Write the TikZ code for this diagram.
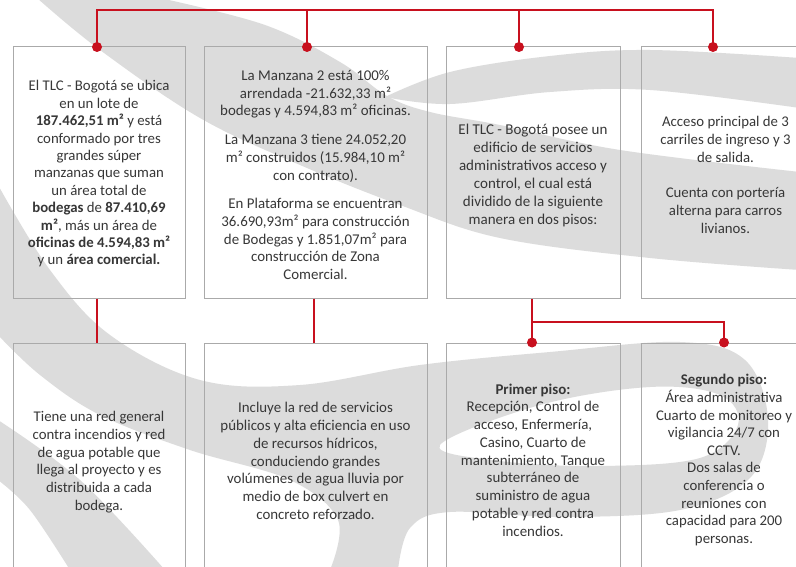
\documentclass[tikz,border=0pt]{standalone}
\usepackage{fontspec}
\setmainfont{Carlito}
\definecolor{redc}{RGB}{200,16,30}
\definecolor{boxgray}{RGB}{170,170,170}
\definecolor{swooshc}{RGB}{220,220,220}
\definecolor{txtc}{RGB}{55,55,55}
\begin{document}
\begin{tikzpicture}[x=1pt,y=-1pt,
  boxn/.style={draw=boxgray,line width=1pt,rectangle,inner sep=0pt},
  txtn/.style 2 args={text=txtc,align=center,font=\fontsize{#1}{#2}\selectfont,inner sep=0pt},
  redline/.style={draw=redc,line width=1.6pt},
  swoosh/.style={fill=swooshc}]
\useasboundingbox (0,0) rectangle (796,567);
\clip (0,0) rectangle (796,567);
\fill[white] (0,0) rectangle (796,567);
% watermark swoosh
\fill[swoosh] plot[smooth,tension=0.6] coordinates {(160,-2) (265,25) (340,62) (387,96) (430,112) (500,125) (620,150) (800,172)}
  -- (800,270) -- plot[smooth,tension=0.6] coordinates {(800,270) (650,258) (500,238) (400,205) (300,165) (200,118) (100,50) (37,-2)} -- cycle;
\fill[swoosh] plot[smooth,tension=0.6] coordinates {(385,97) (450,72) (550,56) (650,50) (800,58)}
  -- (800,108) -- plot[smooth,tension=0.6] coordinates {(800,108) (650,90) (550,92) (450,104) (385,97)} -- cycle;
\fill[swoosh,even odd rule] plot[smooth,tension=0.6] coordinates {(-2,185) (50,270) (110,335) (200,380) (300,385) (420,365) (550,352) (680,342) (745,360) (768,420) (750,478) (680,510) (560,517) (450,512) (410,528) (398,570)}
  -- (330,570) -- plot[smooth,tension=0.6] coordinates {(330,570) (338,520) (290,480) (190,450) (100,415) (40,375) (-2,335)} -- cycle
  plot[smooth cycle,tension=0.6] coordinates {(440,445) (540,405) (650,387) (720,395) (738,425) (700,458) (600,466) (500,461)};
\fill[swoosh] plot[smooth,tension=0.6] coordinates {(-2,420) (80,480) (165,570)} -- (70,570) -- plot[smooth,tension=0.6] coordinates {(70,570) (30,510) (-2,480)} -- cycle;
% boxes
\node[boxn,minimum width=172pt,minimum height=251pt] (b1) at (99,172.5) {};
\node[boxn,minimum width=223pt,minimum height=251pt] (b2) at (315.5,172.5) {};
\node[boxn,minimum width=174pt,minimum height=251pt] (b3) at (533,172.5) {};
\node[boxn,minimum width=169pt,minimum height=251pt] (b4) at (725.5,172.5) {};
\node[boxn,minimum width=172pt,minimum height=237pt] (b5) at (99,461.5) {};
\node[boxn,minimum width=223pt,minimum height=237pt] (b6) at (315.5,461.5) {};
\node[boxn,minimum width=174pt,minimum height=237pt] (b7) at (533,461.5) {};
\node[boxn,minimum width=169pt,minimum height=237pt] (b8) at (725.5,461.5) {};
% texts
\node[txtn={14.8}{17.4}] (t1) at (99,174) {El TLC - Bogotá se ubica\\ en un lote de\\ \textbf{187.462,51 m²} y está\\ conformado por tres\\ grandes súper\\ manzanas que suman\\ un área total de\\ \textbf{bodegas} de \textbf{87.410,69}\\ \textbf{m²}, más un área de\\ \textbf{oficinas de 4.594,83 m²}\\ y un \textbf{área comercial.}};
\node[txtn={14.9}{17.7}] (t2) at (315.5,175) {La Manzana 2 está 100\%\\ arrendada -21.632,33 m²\\ bodegas y 4.594,83 m² oficinas.\\[11pt] La Manzana 3 tiene 24.052,20\\ m² construidos (15.984,10 m²\\ con contrato).\\[11pt] En Plataforma se encuentran\\ 36.690,93m² para construcción\\ de Bodegas y 1.851,07m² para\\ construcción de Zona\\ Comercial.};
\node[txtn={15}{18}] (t3) at (533,176) {El TLC - Bogotá posee un\\ edificio de servicios\\ administrativos acceso y\\ control, el cual está\\ dividido de la siguiente\\ manera en dos pisos:};
\node[txtn={14.8}{17.7}] (t4) at (725.5,175) {Acceso principal de 3\\ carriles de ingreso y 3\\ de salida.\\[17.7pt] Cuenta con portería\\ alterna para carros\\ livianos.};
\node[txtn={14.8}{17.7}] (t5) at (99,462) {Tiene una red general\\ contra incendios y red\\ de agua potable que\\ llega al proyecto y es\\ distribuida a cada\\ bodega.};
\node[txtn={14.9}{17.8}] (t6) at (315.5,461) {Incluye la red de servicios\\ públicos y alta eficiencia en uso\\ de recursos hídricos,\\ conduciendo grandes\\ volúmenes de agua lluvia por\\ medio de box culvert en\\ concreto reforzado.};
\node[txtn={14.9}{17.75}] (t7) at (533,460) {\textbf{Primer piso:}\\ Recepción, Control de\\ acceso, Enfermería,\\ Casino, Cuarto de\\ mantenimiento, Tanque\\ subterráneo de\\ suministro de agua\\ potable y red contra\\ incendios.};
\node[txtn={14.8}{17.6}] (t8) at (724,460) {\textbf{Segundo piso:}\\ Área administrativa\\ Cuarto de monitoreo y\\ vigilancia 24/7 con\\ CCTV.\\ Dos salas de\\ conferencia o\\ reuniones con\\ capacidad para 200\\ personas.};
% connectors
\coordinate (bus) at (0,10);
\coordinate (d1) at (97,47);
\coordinate (d2) at (307,47);
\coordinate (d3) at (519,47);
\coordinate (d4) at (713,47);
\draw[redline] (d1) -- (d1 |- bus) -- (d4 |- bus) -- (d4);
\draw[redline] (d2) -- (d2 |- bus);
\draw[redline] (d3) -- (d3 |- bus);
\foreach \d in {d1,d2,d3,d4} \fill[redc] (\d) circle[radius=5pt];
\coordinate (e1) at (97,0);
\coordinate (e2) at (314,0);
\coordinate (e3) at (532,322);
\coordinate (e4) at (724,322);
\draw[redline] (b1.south -| e1) -- (b5.north -| e1);
\draw[redline] (b2.south -| e2) -- (b6.north -| e2);
\draw[redline] (b3.south -| e3) -- (b7.north -| e3);
\draw[redline] (e3) -- (e4) -- (b8.north -| e4);
\fill[redc] (b7.north -| e3) circle[radius=5pt];
\fill[redc] (b8.north -| e4) circle[radius=5pt];
\end{tikzpicture}
\end{document}
